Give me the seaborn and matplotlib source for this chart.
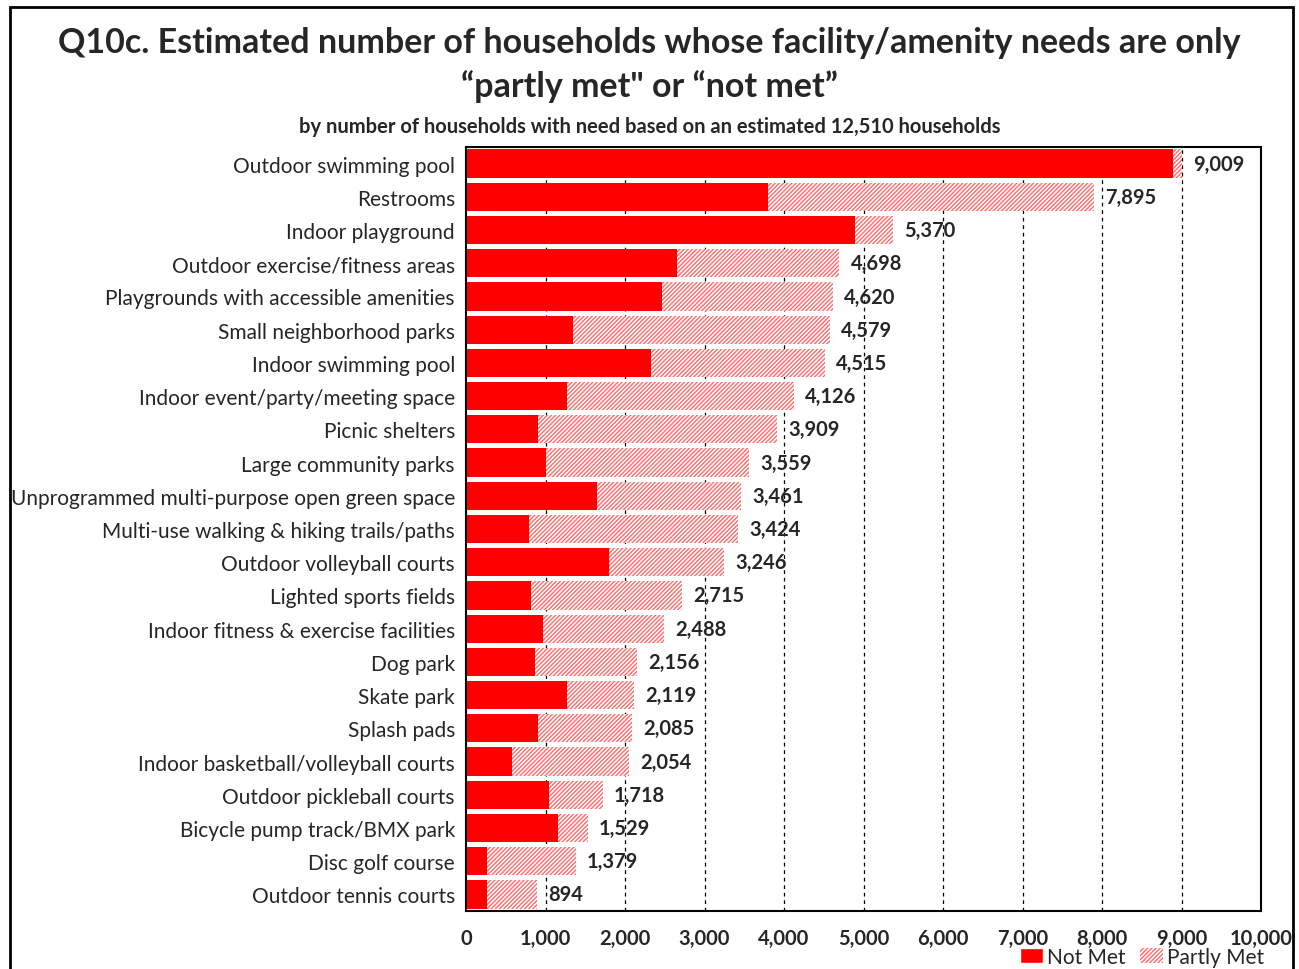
import pandas as pd
import matplotlib.pyplot as plt
import matplotlib.patches as mpatches
import seaborn as sns

# data
categories = [
    "Outdoor swimming pool", "Restrooms", "Indoor playground",
    "Outdoor exercise/fitness areas", "Playgrounds with accessible amenities",
    "Small neighborhood parks", "Indoor swimming pool",
    "Indoor event/party/meeting space", "Picnic shelters",
    "Large community parks", "Unprogrammed multi-purpose open green space",
    "Multi-use walking & hiking trails/paths", "Outdoor volleyball courts",
    "Lighted sports fields", "Indoor fitness & exercise facilities",
    "Dog park", "Skate park", "Splash pads",
    "Indoor basketball/volleyball courts", "Outdoor pickleball courts",
    "Bicycle pump track/BMX park", "Disc golf course", "Outdoor tennis courts",
]
totals = [9009, 7895, 5370, 4698, 4620, 4579, 4515, 4126, 3909, 3559, 3461,
          3424, 3246, 2715, 2488, 2156, 2119, 2085, 2054, 1718, 1529, 1379, 894]
not_met = [8893, 3799, 4893, 2654, 2465, 1346, 2327, 1270, 906, 1006, 1648,
           792, 1799, 818, 969, 868, 1270, 906, 579, 1044, 1157, 264, 264]

df = pd.DataFrame({"item": categories, "total": totals, "not_met": not_met})

sns.set_style("white")
plt.rcParams['font.family'] = ['Lato', 'DejaVu Sans']
plt.rcParams['hatch.linewidth'] = 1.0

HATCH_COL = "#ff6b6b"

fig = plt.figure(figsize=(12.99, 9.70), dpi=100)
ax = fig.add_axes([466 / 1299, 1 - 912 / 970, 795 / 1299, 764 / 970])

# hatched total bar (partly met shows beyond the not-met part)
sns.barplot(data=df, y="item", x="total", orient="h", color="white",
            width=0.85, ax=ax, saturation=1)
for p in ax.patches:
    p.set_facecolor("white")
    p.set_edgecolor(HATCH_COL)
    p.set_hatch("////////")
    p.set_linewidth(0)
n_hatch = len(ax.patches)
sns.barplot(data=df, y="item", x="not_met", orient="h", color="#ff0000",
            width=0.85, ax=ax, saturation=1)
for p in ax.patches[n_hatch:]:
    p.set_linewidth(0)

for i, t in enumerate(totals):
    ax.text(t + 140, i, f"{t:,}", va="center", ha="left",
            fontsize=14.5, fontweight="bold")

ax.set_xlim(0, 10000)
ax.set_xticks(range(0, 10001, 1000))
ax.set_xticklabels([f"{v:,}" for v in range(0, 10001, 1000)],
                   fontsize=14.5, fontweight="bold")
ax.tick_params(axis="x", pad=12, length=0)
ax.tick_params(axis="y", labelsize=15, length=0, pad=8)
ax.set_xlabel("")
ax.set_ylabel("")
for v in range(1000, 10000, 1000):
    ax.axvline(v, color="black", linestyle=(0, (3, 3)), linewidth=0.9, zorder=0)
for s in ax.spines.values():
    s.set_visible(True)
    s.set_color("black")
    s.set_linewidth(1.5)
ax.set_ylim(len(categories) - 0.5, -0.5)

fig.text(0.5, 1 - 43 / 970, "Q10c. Estimated number of households whose facility/amenity needs are only",
         ha="center", va="center", fontsize=24.5, fontweight="bold")
fig.text(0.5, 1 - 87 / 970, "\u201cpartly met\" or \u201cnot met\u201d",
         ha="center", va="center", fontsize=24.5, fontweight="bold")
fig.text(0.5, 1 - 127 / 970,
         "by number of households with need based on an estimated 12,510 households",
         ha="center", va="center", fontsize=14.5, fontweight="bold")

handles = [mpatches.Patch(facecolor="#ff0000", label="Not Met"),
           mpatches.Patch(facecolor="white", edgecolor=HATCH_COL, hatch="////////",
                          linewidth=0, label="Partly Met")]
fig.legend(handles=handles, loc="center right", bbox_to_anchor=(1275 / 1299, 1 - 958 / 970),
           ncol=2, frameon=False, fontsize=15, handlelength=1.1, handleheight=0.7,
           handletextpad=0.2, columnspacing=0.7, borderpad=0.0)

fig.patches.append(mpatches.Rectangle((10 / 1299, -0.05), 1283 / 1299, 1.05 - 8 / 970,
                                      transform=fig.transFigure, fill=False,
                                      edgecolor="black", linewidth=2))

plt.savefig("out.png", dpi=100)
